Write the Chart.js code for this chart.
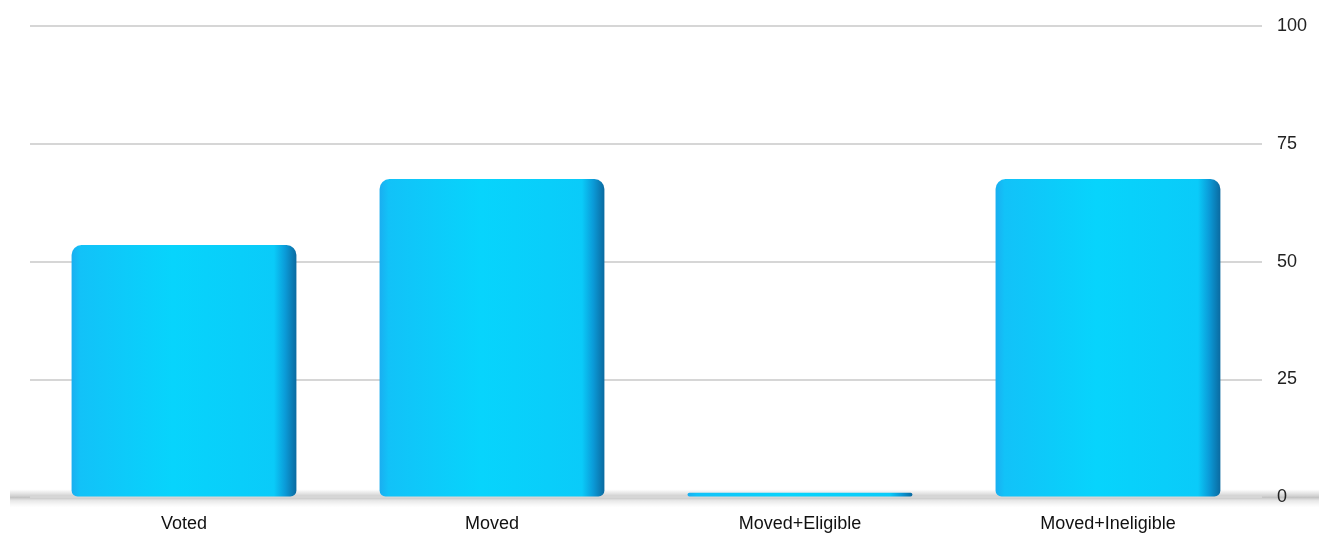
<!DOCTYPE html>
<html>
<head>
<meta charset="utf-8">
<script src="https://cdn.jsdelivr.net/npm/chart.js@4/dist/chart.umd.min.js"></script>
<style>
  html, body { margin: 0; padding: 0; background: #fff; }
  #wrap { width: 1319px; height: 539px; }
</style>
</head>
<body>
<div id="wrap"><canvas id="myChart"></canvas></div>
<script>
  // data
  let categories = ["Voted", "Moved", "Moved+Eligible", "Moved+Ineligible"];
  let values = [53.5, 67.5, 1, 67.5];
  let yTicks = [0, 25, 50, 75, 100];

  let barPct = 0.73;

  /**************Bar colour (side shading)**************/
  function barFill(context) {
    let chart = context.chart;
    let xs = chart.scales.x;
    if (!xs || !chart.chartArea) return '#08cffb';
    let cx = xs.getPixelForValue(context.dataIndex);
    let w = (chart.chartArea.width / categories.length) * barPct;
    let g = chart.ctx.createLinearGradient(cx - w / 2, 0, cx + w / 2, 0);
    g.addColorStop(0, '#1aaef0');
    g.addColorStop(0.04, '#12c2f8');
    g.addColorStop(0.45, '#07d4fc');
    g.addColorStop(0.9, '#0acbf9');
    g.addColorStop(0.95, '#0b9bd8');
    g.addColorStop(1, '#0b6aa0');
    return g;
  }

  /**************Grey floor under the bars**************/
  const floorPlugin = {
    id: 'floor',
    beforeDraw(chart) {
      let c = chart.ctx;
      let y0 = chart.scales.y.getPixelForValue(0);
      let g = c.createLinearGradient(0, y0 - 8, 0, y0 + 10);
      g.addColorStop(0, 'rgba(200,200,200,0)');
      g.addColorStop(0.45, 'rgba(190,190,190,0.9)');
      g.addColorStop(0.6, 'rgba(225,225,225,0.9)');
      g.addColorStop(1, 'rgba(240,240,240,0)');
      c.save();
      c.fillStyle = g;
      c.fillRect(10, y0 - 8, chart.width - 10, 18);
      c.restore();
    }
  };

  let ctx = document.getElementById("myChart").getContext("2d");
  let myChart = new Chart(ctx, {
    type: "bar",
    data: {
      labels: categories,
      datasets: [{
        data: values,
        backgroundColor: barFill,
        borderWidth: 0,
        borderRadius: { topLeft: 10, topRight: 10, bottomLeft: 6, bottomRight: 6 },
        borderSkipped: false,
        barPercentage: barPct,
        categoryPercentage: 1
      }]
    },
    options: {
      responsive: true,
      maintainAspectRatio: false,
      animation: false,
      layout: { padding: { top: 16, left: 30, right: -3, bottom: -12 } },
      plugins: { legend: { display: false }, tooltip: { enabled: false } },
      scales: {
        x: {
          grid: { display: false, drawTicks: false },
          border: { display: false },
          ticks: { color: '#111', padding: 16, font: { family: 'Liberation Sans', size: 18 } }
        },
        y: {
          position: 'right',
          min: 0,
          max: 100,
          afterBuildTicks: (axis) => { axis.ticks = yTicks.map(v => ({ value: v })); },
          grid: { color: '#d6d6d6', lineWidth: 2, drawTicks: false },
          border: { display: false },
          ticks: { color: '#222', padding: 15, font: { family: 'Liberation Sans', size: 18 } }
        }
      }
    },
    plugins: [floorPlugin]
  });
</script>
</body>
</html>
